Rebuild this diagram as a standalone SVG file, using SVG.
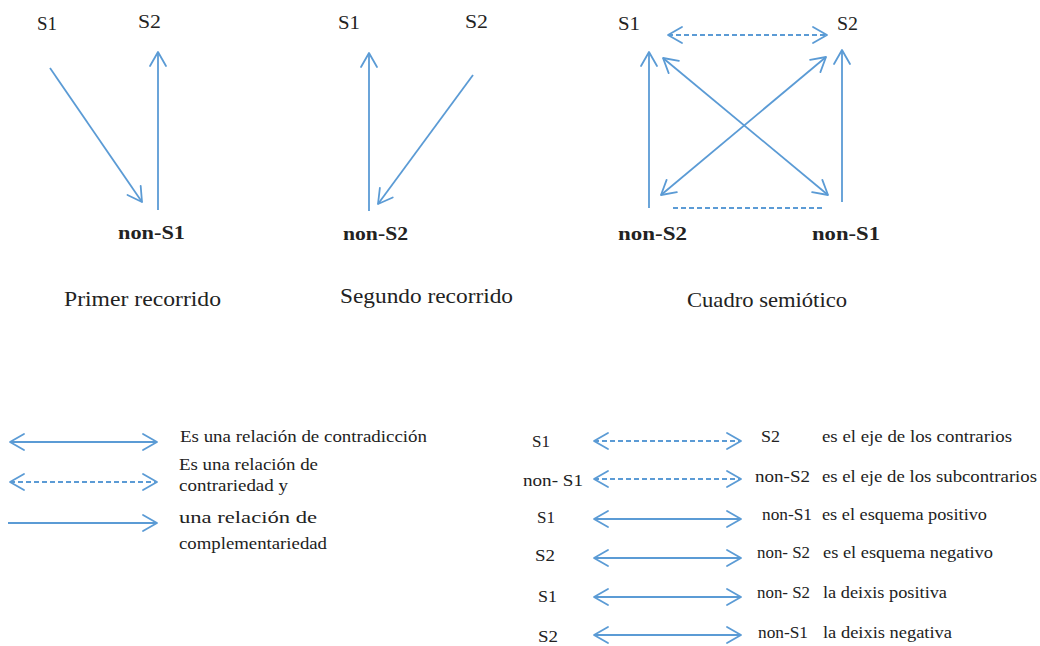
<svg xmlns="http://www.w3.org/2000/svg" width="1040" height="646" viewBox="0 0 1040 646">
<defs>
<style>
.t{font-family:'Liberation Serif','DejaVu Serif','Noto Serif','Times New Roman',Times,serif;fill:#222;}
.s{font-size:19px;}
.b{font-size:19px;font-weight:bold;}
.h{font-size:21px;}
.l{font-size:17.5px;}
.c line{stroke:#5b9bd5;stroke-width:1.8;fill:none;}
.c .d{stroke-dasharray:5 3;}
.c .e{marker-end:url(#ah);}
.c .be{marker-start:url(#ah);marker-end:url(#ah);}
</style>
<marker id="ah" markerUnits="userSpaceOnUse" markerWidth="18" markerHeight="20" viewBox="0 0 18 20" refX="16" refY="10" orient="auto-start-reverse">
<path d="M2,2 L16,10 L2,18" fill="none" stroke="#5b9bd5" stroke-width="1.8" stroke-linecap="round" stroke-linejoin="round"/>
</marker>
</defs>
<rect width="1040" height="646" fill="#ffffff"/>

<!-- Primer recorrido -->
<g id="p-s1"><text class="t s" x="37" y="30" textLength="20" lengthAdjust="spacingAndGlyphs">S1</text></g>
<g id="p-s2"><text class="t s" x="138" y="28" textLength="23" lengthAdjust="spacingAndGlyphs">S2</text></g>
<g id="p-nons1"><text class="t b" x="118" y="239" textLength="67" lengthAdjust="spacingAndGlyphs">non-S1</text></g>
<g id="p-title"><text class="t h" x="64" y="306" textLength="157" lengthAdjust="spacingAndGlyphs">Primer recorrido</text></g>

<!-- Segundo recorrido -->
<g id="g-s1"><text class="t s" x="338" y="29" textLength="22" lengthAdjust="spacingAndGlyphs">S1</text></g>
<g id="g-s2"><text class="t s" x="465" y="28" textLength="23" lengthAdjust="spacingAndGlyphs">S2</text></g>
<g id="g-nons2"><text class="t b" x="343" y="240" textLength="65" lengthAdjust="spacingAndGlyphs">non-S2</text></g>
<g id="g-title"><text class="t h" x="340" y="303" textLength="173" lengthAdjust="spacingAndGlyphs">Segundo recorrido</text></g>

<!-- Cuadro semiotico -->
<g id="c-s1"><text class="t s" x="618" y="30" textLength="22" lengthAdjust="spacingAndGlyphs">S1</text></g>
<g id="c-s2"><text class="t s" x="837" y="30" textLength="21" lengthAdjust="spacingAndGlyphs">S2</text></g>
<g id="c-nons2"><text class="t b" x="618" y="240" textLength="69" lengthAdjust="spacingAndGlyphs">non-S2</text></g>
<g id="c-nons1"><text class="t b" x="812" y="240" textLength="68" lengthAdjust="spacingAndGlyphs">non-S1</text></g>
<g id="c-title"><text class="t h" x="687" y="307" textLength="160" lengthAdjust="spacingAndGlyphs">Cuadro semiótico</text></g>

<!-- Left legend -->
<g id="leg-contradiccion"><text class="t l" x="180" y="442" textLength="247" lengthAdjust="spacingAndGlyphs">Es una relación de contradicción</text></g>
<g id="leg-contrariedad"><text class="t l" x="179" y="470" textLength="139" lengthAdjust="spacingAndGlyphs">Es una relación de</text><text class="t l" x="179" y="491" textLength="109" lengthAdjust="spacingAndGlyphs">contrariedad y</text></g>
<g id="leg-complementariedad"><text class="t l" x="179" y="523" textLength="138" lengthAdjust="spacingAndGlyphs">una relación de</text><text class="t l" x="179" y="549" textLength="148" lengthAdjust="spacingAndGlyphs">complementariedad</text></g>

<!-- Right legend -->
<g id="r1"><text class="t l" x="532" y="447" textLength="18" lengthAdjust="spacingAndGlyphs">S1</text><text class="t l" x="761" y="442" textLength="19" lengthAdjust="spacingAndGlyphs">S2</text><text class="t l" x="822" y="442" textLength="190" lengthAdjust="spacingAndGlyphs">es el eje de los contrarios</text></g>
<g id="r2"><text class="t l" x="523" y="486" textLength="60" lengthAdjust="spacingAndGlyphs">non- S1</text><text class="t l" x="755" y="482" textLength="55" lengthAdjust="spacingAndGlyphs">non-S2</text><text class="t l" x="822" y="482" textLength="215" lengthAdjust="spacingAndGlyphs">es el eje de los subcontrarios</text></g>
<g id="r3"><text class="t l" x="537" y="523" textLength="18" lengthAdjust="spacingAndGlyphs">S1</text><text class="t l" x="762" y="520" textLength="50" lengthAdjust="spacingAndGlyphs">non-S1</text><text class="t l" x="822" y="520" textLength="165" lengthAdjust="spacingAndGlyphs">es el esquema positivo</text></g>
<g id="r4"><text class="t l" x="535" y="561" textLength="20" lengthAdjust="spacingAndGlyphs">S2</text><text class="t l" x="757" y="558" textLength="53" lengthAdjust="spacingAndGlyphs">non- S2</text><text class="t l" x="823" y="558" textLength="170" lengthAdjust="spacingAndGlyphs">es el esquema negativo</text></g>
<g id="r5"><text class="t l" x="538" y="602" textLength="19" lengthAdjust="spacingAndGlyphs">S1</text><text class="t l" x="757" y="598" textLength="53" lengthAdjust="spacingAndGlyphs">non- S2</text><text class="t l" x="823" y="598" textLength="124" lengthAdjust="spacingAndGlyphs">la deixis positiva</text></g>
<g id="r6"><text class="t l" x="538" y="642" textLength="20" lengthAdjust="spacingAndGlyphs">S2</text><text class="t l" x="758" y="638" textLength="50" lengthAdjust="spacingAndGlyphs">non-S1</text><text class="t l" x="823" y="638" textLength="129" lengthAdjust="spacingAndGlyphs">la deixis negativa</text></g>

<!-- Connectors -->
<g id="connectors" class="c">
<line class="e" x1="50" y1="68" x2="142" y2="202"/>
<line class="e" x1="158" y1="210" x2="158" y2="52"/>
<line class="e" x1="369" y1="211" x2="369" y2="53"/>
<line class="e" x1="473" y1="75" x2="378" y2="204"/>
<line class="d be" x1="668" y1="35" x2="827" y2="35"/>
<line class="e" x1="649" y1="208" x2="649" y2="52"/>
<line class="e" x1="842" y1="202" x2="842" y2="50"/>
<line class="be" x1="663" y1="58" x2="828" y2="195"/>
<line class="be" x1="826" y1="57" x2="661" y2="195"/>
<line class="d" x1="673" y1="208" x2="823" y2="208"/>
<line class="be" x1="10" y1="442" x2="157" y2="442"/>
<line class="d be" x1="10" y1="482" x2="157" y2="482"/>
<line class="e" x1="8" y1="523" x2="157" y2="523"/>
<line class="d be" x1="594" y1="441" x2="741" y2="441"/>
<line class="d be" x1="594" y1="479" x2="741" y2="479"/>
<line class="be" x1="594" y1="519" x2="741" y2="519"/>
<line class="be" x1="594" y1="558" x2="741" y2="558"/>
<line class="be" x1="594" y1="597" x2="741" y2="597"/>
<line class="be" x1="594" y1="635" x2="741" y2="635"/>
</g>
</svg>
